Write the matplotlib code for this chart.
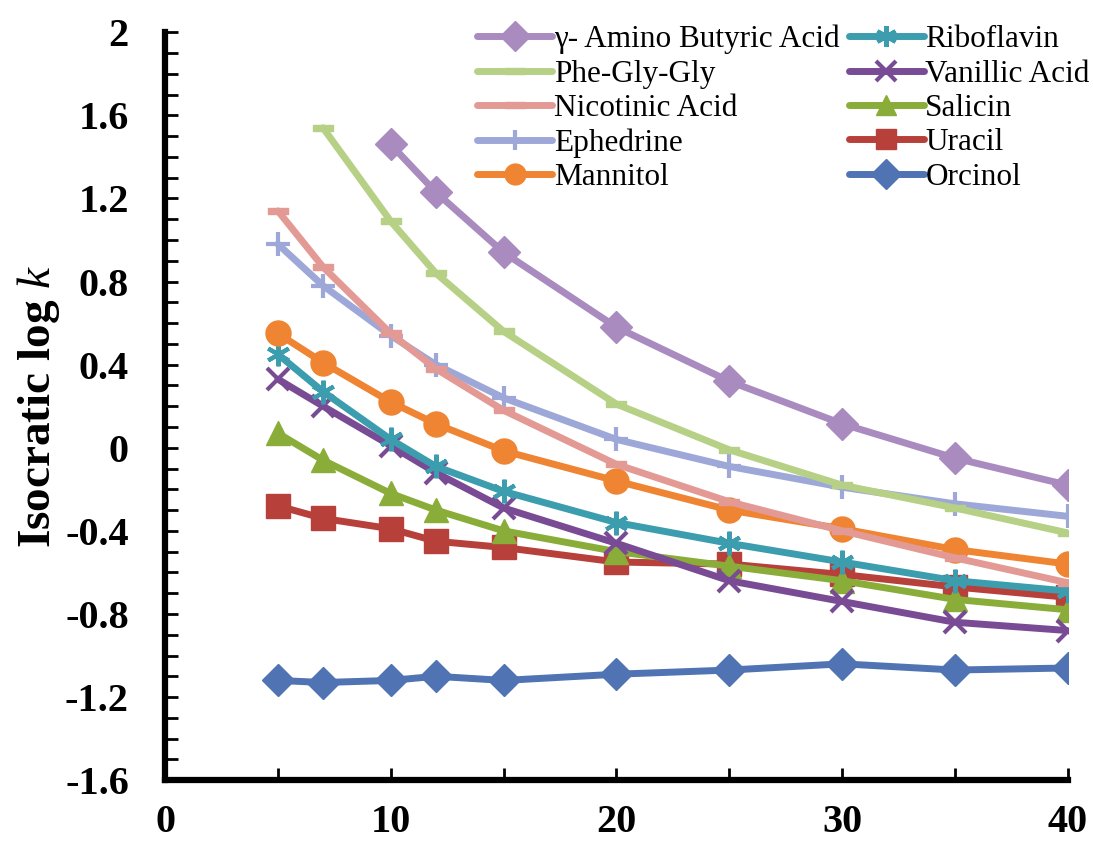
import matplotlib
matplotlib.use("Agg")
import matplotlib.pyplot as plt
from matplotlib.ticker import MultipleLocator

plt.rcParams['font.family'] = ['Liberation Serif', 'DejaVu Serif']
plt.rcParams['mathtext.fontset'] = 'custom'
plt.rcParams['mathtext.it'] = 'Liberation Serif:italic'
plt.rcParams['mathtext.rm'] = 'Liberation Serif:bold'

x_all = [5, 7, 10, 12, 15, 20, 25, 30, 35, 40]

names = ["γ- Amino Butyric Acid", "Phe-Gly-Gly", "Nicotinic Acid", "Ephedrine", "Mannitol",
         "Riboflavin", "Vanillic Acid", "Salicin", "Uracil", "Orcinol"]

gaba_x = [10, 12, 15, 20, 25, 30, 35, 40]
gaba = [1.46, 1.23, 0.94, 0.58, 0.32, 0.115, -0.05, -0.18]
pgg_x = [7, 10, 12, 15, 20, 25, 30, 35, 40]
pgg = [1.54, 1.09, 0.84, 0.56, 0.21, -0.01, -0.18, -0.29, -0.41]
nicotinic = [1.14, 0.87, 0.55, 0.38, 0.18, -0.08, -0.26, -0.40, -0.53, -0.65]
ephedrine = [0.98, 0.78, 0.54, 0.40, 0.24, 0.04, -0.09, -0.19, -0.27, -0.33]
mannitol = [0.55, 0.41, 0.22, 0.115, -0.015, -0.16, -0.30, -0.39, -0.49, -0.56]
riboflavin = [0.45, 0.27, 0.04, -0.09, -0.21, -0.36, -0.46, -0.55, -0.64, -0.69]
vanillic = [0.33, 0.20, 0.01, -0.12, -0.29, -0.46, -0.64, -0.74, -0.84, -0.88]
salicin = [0.07, -0.06, -0.22, -0.30, -0.40, -0.50, -0.57, -0.64, -0.73, -0.78]
uracil = [-0.28, -0.34, -0.39, -0.45, -0.48, -0.55, -0.56, -0.61, -0.67, -0.72]
orcinol = [-1.12, -1.13, -1.12, -1.10, -1.12, -1.09, -1.07, -1.04, -1.07, -1.06]

xs = [gaba_x, pgg_x] + [x_all] * 8
ys = [gaba, pgg, nicotinic, ephedrine, mannitol, riboflavin, vanillic, salicin, uracil, orcinol]
colors = ["#A98BC0", "#B6D186", "#E39A94", "#9EA8D8", "#EF8432",
          "#3C9DAE", "#7A4B95", "#8AAD3A", "#B7403B", "#4F73B3"]
dash = [(-1, -0.3), (1, -0.3), (1, 0.3), (-1, 0.3), (-1, -0.3)]
markers = ["D", dash, dash, "+", "o", (6, 2, 0), "x", "^", "s", "D"]
msizes = [16, 15, 15, 17, 18, 17, 16, 17, 17, 16]

fig = plt.figure(figsize=(10.93, 8.48), dpi=100)
ax = fig.add_axes([0.151, 0.080, 0.826, 0.882])

handles = [None] * 10
for i in reversed(range(10)):
    line_marker = markers[i]
    mew = 3 if line_marker in ("+", "x") or isinstance(line_marker, tuple) else 1
    h, = ax.plot(xs[i], ys[i], color=colors[i], lw=5, marker=line_marker,
                 ms=msizes[i], mew=mew, mec=colors[i], mfc=colors[i],
                 label=names[i], solid_joinstyle='round', solid_capstyle='round')
    handles[i] = h

ax.set_xlim(0, 40)
ax.set_ylim(-1.6, 2.0)
ax.spines['top'].set_visible(False)
ax.spines['right'].set_visible(False)
for s in ('left', 'bottom'):
    ax.spines[s].set_linewidth(4.5)
    ax.spines[s].set_color('black')

ax.xaxis.set_major_locator(MultipleLocator(10))
ax.xaxis.set_minor_locator(MultipleLocator(5))
ax.yaxis.set_major_locator(MultipleLocator(0.4))
ax.yaxis.set_minor_locator(MultipleLocator(0.1))
ax.tick_params(axis='both', which='both', direction='in', width=2, color='black')
ax.tick_params(axis='y', which='major', length=9, pad=26, labelsize=29)
ax.tick_params(axis='y', which='minor', length=9)
ax.tick_params(axis='x', which='major', length=9, pad=17, labelsize=29)
ax.tick_params(axis='x', which='minor', length=9)
for lab in ax.get_xticklabels() + ax.get_yticklabels():
    lab.set_fontweight('bold')
ax.yaxis.set_major_formatter(matplotlib.ticker.FuncFormatter(
    lambda v, p: ("%g" % round(v, 1))))

ax.set_ylabel(r"Isocratic log $k$", fontsize=34, fontweight='bold', labelpad=2)

leg = ax.legend(handles=handles, ncol=2, loc='upper right', bbox_to_anchor=(1.045, 1.035),
                frameon=False, fontsize=22.5, handlelength=2.4, handletextpad=0.05,
                columnspacing=0.3, labelspacing=0.17, borderaxespad=0.2)
for lh in leg.get_lines():
    lh.set_markersize(15)

fig.savefig("out.png", dpi=100, facecolor='white')
